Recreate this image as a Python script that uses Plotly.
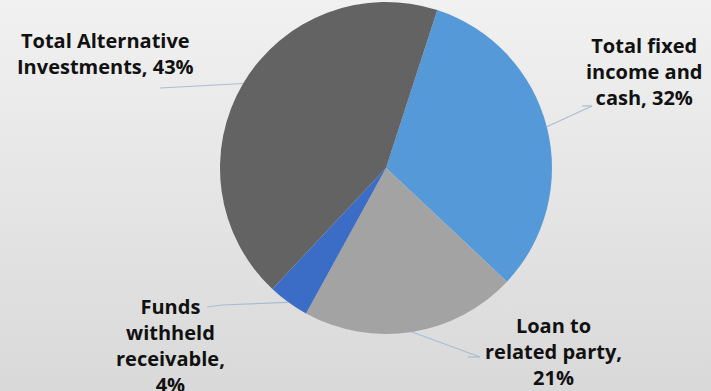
import math
import plotly.graph_objects as go

# Data
categories = ["Total fixed income and cash", "Loan to related party",
              "Funds withheld receivable", "Total Alternative Investments"]
values = [32, 21, 4, 43]
label_texts = ["Total fixed<br>income and<br>cash, 32%",
               "Loan to<br>related party,<br>21%",
               "Funds<br>withheld<br>receivable,<br>4%",
               "Total Alternative<br>Investments, 43%"]

colors = ["#5699d8", "#a3a3a3", "#3b6cc6", "#636363"]

W, H = 711, 391
CX, CY, R = 386, 168, 166
ROT = 18

# label centre positions (px) and leader-line elbow (px)
label_pos = [(644, 71), (553, 351), (170, 345), (105, 54)]
leader_tail = [[(592, 106), (582, 106)], [(480, 357), (468, 357)],
               [(222, 305), (207, 307)], [(160, 88), (160, 88)]]

def px(x, y):
    return x / W, 1 - y / H

fig = go.Figure()

# gradient background
fig.add_trace(go.Scatter(
    x=[0, 1, 1, 0, 0], y=[0, 0, 1, 1, 0], mode="lines", fill="toself",
    line=dict(width=0), hoverinfo="skip", showlegend=False,
    fillgradient=dict(type="vertical",
                      colorscale=[[0, "#d9d9d9"], [1, "#f1f1f1"]])))

fig.add_trace(go.Pie(
    labels=categories, values=values, sort=False, direction="clockwise",
    rotation=ROT, marker=dict(colors=colors, line=dict(width=0)),
    textinfo="none", hoverinfo="label+percent", showlegend=False,
    domain=dict(x=[(CX - R) / W, (CX + R) / W],
                y=[1 - (CY + R) / H, 1 - (CY - R) / H])))

total = sum(values)
cum = 0
shapes = []
annotations = []
for i, v in enumerate(values):
    mid = ROT + (cum + v / 2) / total * 360
    cum += v
    a = math.radians(mid)
    ex, ey = CX + R * math.sin(a), CY - R * math.cos(a)
    pts = [(ex, ey)] + leader_tail[i]
    for (x0, y0), (x1, y1) in zip(pts[:-1], pts[1:]):
        if (x0, y0) == (x1, y1):
            continue
        p0, p1 = px(x0, y0), px(x1, y1)
        shapes.append(dict(type="line", xref="paper", yref="paper",
                           x0=p0[0], y0=p0[1], x1=p1[0], y1=p1[1],
                           line=dict(color="#a9bdd2", width=1.2)))
    lx, ly = px(*label_pos[i])
    annotations.append(dict(x=lx, y=ly, xref="paper", yref="paper",
                            text="<b>" + label_texts[i] + "</b>",
                            showarrow=False, align="center",
                            xanchor="center", yanchor="middle",
                            font=dict(family="Open Sans", size=20, color="#111111")))

fig.update_layout(
    width=W, height=H, margin=dict(l=0, r=0, t=0, b=0),
    paper_bgcolor="#e6e6e6", plot_bgcolor="rgba(0,0,0,0)",
    xaxis=dict(range=[0, 1], visible=False, fixedrange=True, domain=[0, 1]),
    yaxis=dict(range=[0, 1], visible=False, fixedrange=True, domain=[0, 1]),
    shapes=shapes, annotations=annotations, showlegend=False)

fig.write_html("out.html", config={"displayModeBar": False})
